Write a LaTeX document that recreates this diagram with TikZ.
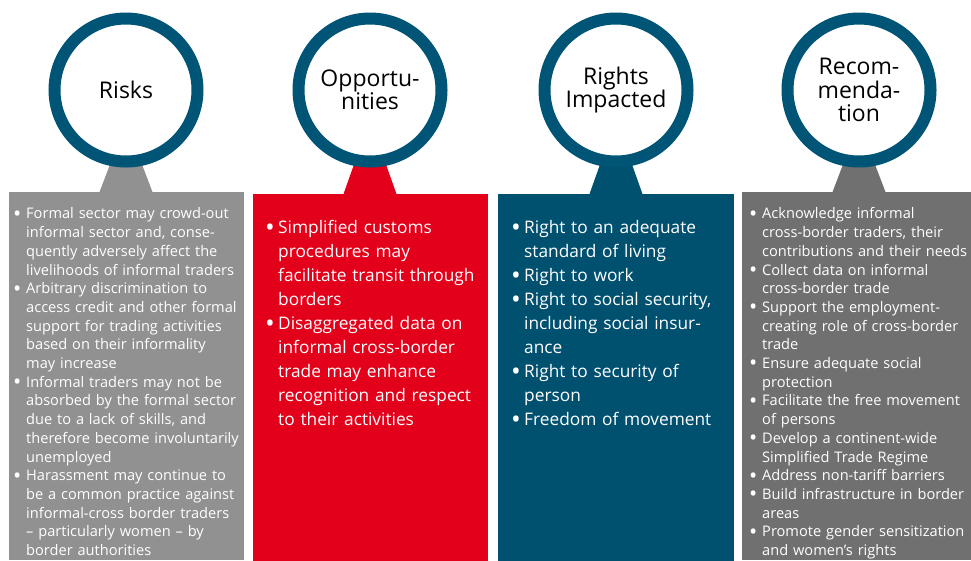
\documentclass[tikz,border=0pt]{standalone}
\usepackage{fontspec}
\setmainfont{Open Sans}
\usepackage{graphicx}
\usepackage{enumitem}
\usetikzlibrary{positioning,calc,backgrounds}

\definecolor{riskgray}{HTML}{919191}
\definecolor{recgray}{HTML}{707070}
\definecolor{oppred}{HTML}{E2001A}
\definecolor{rightblue}{HTML}{00506F}
\definecolor{ringblue}{HTML}{005475}

\newcommand{\dotmark}{\raisebox{-0.17em}{\scalebox{1.5}{\textbullet}}}
\setlist[itemize]{label=\dotmark,leftmargin=13pt,labelwidth=13pt,labelsep=0pt,
  align=left,itemsep=0pt,topsep=0pt,parsep=0pt,partopsep=0pt}

\tikzset{
  ring/.style={circle,draw=ringblue,line width=12pt,fill=white,minimum size=143pt,
    inner sep=0pt,align=center,font=\fontsize{23}{23.5}\selectfont},
  panel/.style={anchor=north west,minimum height=368pt,inner sep=0pt,outer sep=0pt},
  smalltxt/.style={text=white,text width=#1,align=left,inner sep=0pt,
    font=\fontsize{14.6}{18.7}\selectfont},
  bigtxt/.style={text=white,text width=#1,align=left,inner sep=0pt,
    font=\fontsize{17.3}{24}\selectfont}
}

\begin{document}
\begin{tikzpicture}[x=1pt,y=-1pt]
  \useasboundingbox (0,0) rectangle (971,560);
  % the four circles
  \node[ring] (risks) at (126,90) {Risks};
  \node[ring] (opps) at (370,90) {Opportu-\\nities};
  \node[ring] (rights) at (616,90) {Rights\\Impacted};
  \node[ring] (recs) at (859,90) {Recom-\\menda-\\tion};
  \begin{scope}[on background layer]
    % panels under the circles
    \node[panel,fill=riskgray,minimum width=235pt] (riskbox) at (9,192) {};
    \node[panel,fill=oppred,minimum width=235pt] (oppbox) at (253,194) {};
    \node[panel,fill=rightblue,minimum width=236pt] (rightbox) at (498,194) {};
    \node[panel,fill=recgray,minimum width=229pt] (recbox) at (742,192) {};
    % stems from circle to panel
    \foreach \c/\p/\col in {risks/riskbox/riskgray,opps/oppbox/oppred,
        rights/rightbox/rightblue,recs/recbox/recgray} {
      \coordinate (top) at ($(\c.south)+(0,-3)$);
      \coordinate (foot) at (\c.south |- \p.north);
      \fill[\col] ($(top)+(-16,0)$) -- ($(top)+(16,0)$)
        -- ($(foot)+(26.5,0)$) -- ($(foot)+(-26.5,0)$) -- cycle;
    }
  \end{scope}
  % texts
  \node[smalltxt=228pt,below right=8pt and 4pt of riskbox.north west] (risktxt) {%
    \begin{itemize}
      \item Formal sector may crowd-out\\informal sector and, conse-\\quently adversely affect the\\livelihoods of informal traders
      \item Arbitrary discrimination to\\access credit and other formal\\support for trading activities\\based on their informality\\may increase
      \item Informal traders may not be\\absorbed by the formal sector\\due to a lack of skills, and\\therefore become involuntarily\\unemployed
      \item Harassment may continue to\\be a common practice against\\informal-cross border traders\\-- particularly women -- by\\border authorities
    \end{itemize}};
  \node[bigtxt=228pt,below right=15pt and 12pt of oppbox.north west] (opptxt) {%
    \begin{itemize}
      \item Simplified customs\\procedures may\\facilitate transit through\\borders
      \item Disaggregated data on\\informal cross-border\\trade may enhance\\recognition and respect\\to their activities
    \end{itemize}};
  \node[bigtxt=228pt,below right=15pt and 13pt of rightbox.north west] (righttxt) {%
    \begin{itemize}
      \item Right to an adequate\\standard of living
      \item Right to work
      \item Right to social security,\\including social insur-\\ance
      \item Right to security of\\person
      \item Freedom of movement
    \end{itemize}};
  \node[smalltxt=228pt,below right=8pt and 7pt of recbox.north west] (rectxt) {%
    \begin{itemize}
      \item Acknowledge informal\\cross-border traders, their\\contributions and their needs
      \item Collect data on informal\\cross-border trade
      \item Support the employment-\\creating role of cross-border\\trade
      \item Ensure adequate social\\protection
      \item Facilitate the free movement\\of persons
      \item Develop a continent-wide\\Simplified Trade Regime
      \item Address non-tariff barriers
      \item Build infrastructure in border\\areas
      \item Promote gender sensitization\\and women's rights
    \end{itemize}};
\end{tikzpicture}
\end{document}
